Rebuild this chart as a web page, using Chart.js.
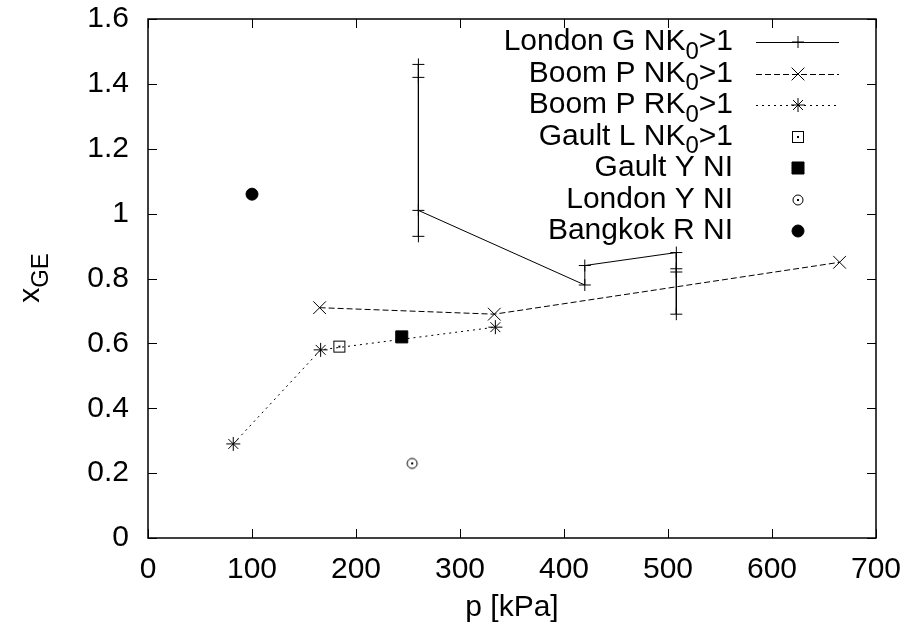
<!DOCTYPE html>
<html lang="en">
<head>
<meta charset="UTF-8">
<title>x_GE vs p</title>
<style>
  html, body { margin: 0; padding: 0; background: #fff; }
  #wrap { width: 910px; height: 635px; position: relative; }
</style>
</head>
<body>
<div id="wrap"><canvas id="chart"></canvas></div>

<script src="https://cdn.jsdelivr.net/npm/chart.js"></script>
<script>
// values: p [kPa] and x_GE
const londonG_p = [260, 260, 260, 260, 420, 420, 508, 508, 508, 508];
const londonG_x = [1.46, 1.42, 0.93, 1.01, 0.78, 0.84, 0.88, 0.83, 0.82, 0.69];
const boomPN_p = [165, 333, 665];
const boomPN_x = [0.71, 0.69, 0.85];
const boomPR_p = [82, 166, 334];
const boomPR_x = [0.29, 0.58, 0.65];
const gaultL_p = [184];
const gaultL_x = [0.59];
const gaultY_p = [244];
const gaultY_x = [0.62];
const londonY_p = [254];
const londonY_x = [0.23];
const bangkok_p = [100];
const bangkok_x = [1.06];

const seriesNames = ['London G NK_0>1', 'Boom P NK_0>1', 'Boom P RK_0>1', 'Gault L NK_0>1',
                     'Gault Y NI', 'London Y NI', 'Bangkok R NI'];
const xTicks = [0, 100, 200, 300, 400, 500, 600, 700];
const yTicks = [0, 0.2, 0.4, 0.6, 0.8, 1, 1.2, 1.4, 1.6];
const xTitle = 'p [kPa]';
const yTitle = 'x_GE';

const FONT = '"Liberation Sans", Arial, Helvetica, sans-serif';
const FS = 30;

function pts(px, py) { return px.map((v, i) => ({ x: v, y: py[i] })); }

// small symbols gnuplot uses that Chart.js has no style for
function symbol(kind) {
  const c = document.createElement('canvas');
  c.width = 14; c.height = 14;
  const g = c.getContext('2d');
  g.strokeStyle = '#000'; g.fillStyle = '#000'; g.lineWidth = 1;
  if (kind === 'boxdot') {
    g.strokeRect(1.5, 1.5, 11, 11);
  } else {
    g.beginPath(); g.arc(7, 7, 5, 0, Math.PI * 2); g.stroke();
  }
  g.fillRect(6, 6, 2, 2);
  return c;
}
const boxDot = symbol('boxdot');
const circDot = symbol('circdot');

const base = { borderColor: '#000', backgroundColor: '#000', pointBorderColor: '#000',
               pointBackgroundColor: '#000', borderWidth: 1, pointBorderWidth: 1, showLine: false };

const datasets = [
  { ...base, label: seriesNames[0], data: pts(londonG_p, londonG_x), showLine: true,
    pointStyle: 'cross', pointRadius: 6 },
  { ...base, label: seriesNames[1], data: pts(boomPN_p, boomPN_x), showLine: true,
    borderDash: [6, 3], pointStyle: 'crossRot', pointRadius: 9 },
  { ...base, label: seriesNames[2], data: pts(boomPR_p, boomPR_x), showLine: true,
    borderDash: [2, 4], pointStyle: 'star', pointRadius: 7 },
  { ...base, label: seriesNames[3], data: pts(gaultL_p, gaultL_x), pointStyle: boxDot },
  { ...base, label: seriesNames[4], data: pts(gaultY_p, gaultY_x), pointStyle: 'rect', pointRadius: 8.5 },
  { ...base, label: seriesNames[5], data: pts(londonY_p, londonY_x), pointStyle: circDot },
  { ...base, label: seriesNames[6], data: pts(bangkok_p, bangkok_x), pointStyle: 'circle', pointRadius: 6 }
];

// text with "_x" or "_XY" subscript part
function parseRich(s) {
  const m = s.match(/^(.*?)_([A-Za-z0-9]+)(.*)$/);
  if (!m) return [{ t: s, sub: false }];
  return [{ t: m[1], sub: false }, { t: m[2], sub: true }, { t: m[3], sub: false }];
}
function drawRich(ctx, s, x, y, align, size) {
  const parts = parseRich(s);
  const main = size + 'px ' + FONT, small = Math.round(size * 0.8) + 'px ' + FONT;
  let w = 0;
  parts.forEach(p => { ctx.font = p.sub ? small : main; p.w = ctx.measureText(p.t).width; w += p.w; });
  let cx = align === 'right' ? x - w : align === 'center' ? x - w / 2 : x;
  ctx.textAlign = 'left';
  ctx.textBaseline = 'middle';
  parts.forEach(p => {
    ctx.font = p.sub ? small : main;
    ctx.fillText(p.t, cx, p.sub ? y + size * 0.33 : y);
    cx += p.w;
  });
}

const gnuFrame = {
  id: 'gnuFrame',
  afterDatasetsDraw(chart) {
    const { ctx, chartArea: a, scales: { x, y } } = chart;
    ctx.save();
    ctx.strokeStyle = '#000';
    ctx.fillStyle = '#000';
    ctx.lineWidth = 1;
    const seg = (x1, y1, x2, y2) => { ctx.beginPath(); ctx.moveTo(x1, y1); ctx.lineTo(x2, y2); ctx.stroke(); };
    const T = 9;
    xTicks.forEach(v => {
      const px = Math.round(x.getPixelForValue(v)) + 0.5;
      seg(px, a.bottom, px, a.bottom - T);
      seg(px, a.top, px, a.top + T);
    });
    yTicks.forEach(v => {
      const py = Math.round(y.getPixelForValue(v)) + 0.5;
      seg(a.left, py, a.left + T, py);
      seg(a.right, py, a.right - T, py);
    });
    ctx.lineWidth = 1.5;
    ctx.strokeRect(a.left, a.top, a.right - a.left, a.bottom - a.top);

    // key, right aligned text with the sample to its right
    ctx.lineWidth = 1;
    const textRight = 733, sx1 = 756, sx2 = 839, sm = 798;
    chart.data.datasets.forEach((ds, i) => {
      const ry = 42 + i * 31.5;
      drawRich(ctx, ds.label, textRight, ry, 'right', FS);
      if (ds.showLine) {
        ctx.setLineDash(ds.borderDash || []);
        seg(sx1, Math.round(ry) + 0.5, sx2, Math.round(ry) + 0.5);
        ctx.setLineDash([]);
      }
      Chart.helpers.drawPoint(ctx, { pointStyle: ds.pointStyle, radius: ds.pointRadius || 6,
                                     rotation: 0, borderWidth: 1 }, sm, Math.round(ry));
    });

    // axis titles
    drawRich(ctx, xTitle, (a.left + a.right) / 2, 608, 'center', FS);
    ctx.translate(31, 278);
    ctx.rotate(-Math.PI / 2);
    drawRich(ctx, yTitle, 0, 0, 'center', FS);
    ctx.restore();
  }
};

// keep the plot box where the figure has it, whatever the label sizes
function noPad(s) { s.paddingTop = 0; s.paddingBottom = 0; s.paddingLeft = 0; s.paddingRight = 0; }

new Chart(document.getElementById('chart'), {
  type: 'scatter',
  data: { datasets },
  options: {
    responsive: true,
    maintainAspectRatio: false,
    animation: false,
    events: [],
    layout: { padding: { top: 19, right: 34, bottom: 0, left: 0 } },
    plugins: { legend: { display: false }, tooltip: { enabled: false } },
    scales: {
      x: {
        type: 'linear', min: 0, max: 700,
        grid: { display: false, drawTicks: false }, border: { display: false },
        afterBuildTicks: s => { s.ticks = xTicks.map(v => ({ value: v })); },
        afterFit: s => { s.height = 97; noPad(s); },
        ticks: { color: '#000', padding: 14, maxRotation: 0, font: { family: FONT, size: FS } }
      },
      y: {
        type: 'linear', min: 0, max: 1.6,
        grid: { display: false, drawTicks: false }, border: { display: false },
        afterBuildTicks: s => { s.ticks = yTicks.map(v => ({ value: v })); },
        afterFit: s => { s.width = 148; noPad(s); },
        ticks: { color: '#000', padding: 19, font: { family: FONT, size: FS },
                 callback: v => String(Number(v.toFixed(1))) }
      }
    }
  },
  plugins: [gnuFrame]
});
</script>
</body>
</html>
